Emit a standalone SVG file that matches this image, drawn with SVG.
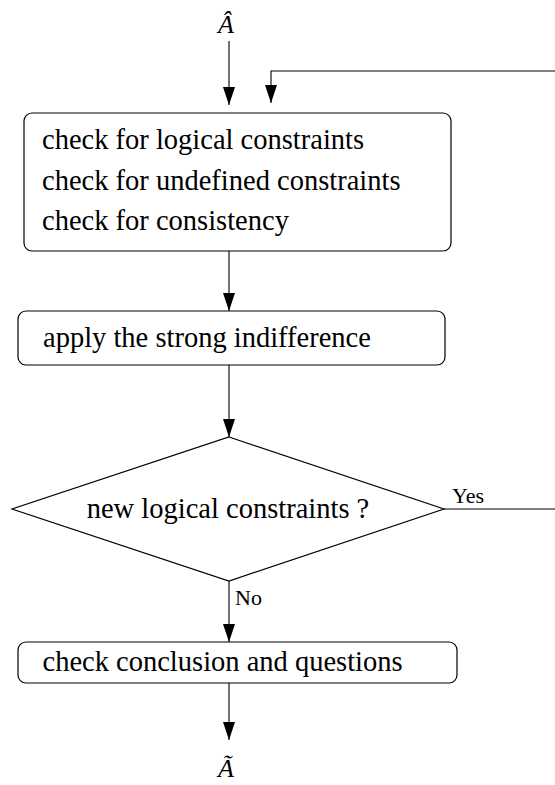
<svg xmlns="http://www.w3.org/2000/svg" width="555" height="785" viewBox="0 0 555 785">
<style>
.box{fill:#fff;stroke:#000;stroke-width:1.2}
.t{font-family:"Liberation Serif","Times New Roman",serif;font-size:28.5px;fill:#000}
.s{font-family:"Liberation Serif","Times New Roman",serif;font-size:22px;fill:#000}
.m{font-family:"Liberation Serif","Times New Roman",serif;font-size:26px;font-style:italic;fill:#000}
.c{fill:none;stroke:#000;stroke-width:1.1}
.ah{fill:#000}
</style>
<g id="input"><text class="m" x="226" y="33" text-anchor="middle">Â</text></g>
<g id="output"><text class="m" x="226" y="777" text-anchor="middle">Ã</text></g>
<g id="connectors">
<path class="c" d="M229,41 V105"/>
<path class="ah" d="M223,87 L235,87 L229,105 Z"/>
<path class="c" d="M444,509 H560 V71 H271 V103"/>
<path class="ah" d="M265,85 L277,85 L271,103 Z"/>
<path class="c" d="M229,251 V311"/>
<path class="ah" d="M223,293 L235,293 L229,311 Z"/>
<path class="c" d="M229,365 V437"/>
<path class="ah" d="M223,419 L235,419 L229,437 Z"/>
<path class="c" d="M229,581 V642"/>
<path class="ah" d="M223,624 L235,624 L229,642 Z"/>
<path class="c" d="M229,683 V740"/>
<path class="ah" d="M223,722 L235,722 L229,740 Z"/>
<text class="s" x="452" y="503">Yes</text>
<text class="s" x="235" y="605">No</text>
</g>
<g id="checks">
<rect class="box" x="24" y="113" width="427" height="138" rx="8"/>
<text class="t" x="42" y="149">check for logical constraints</text>
<text class="t" x="42" y="190">check for undefined constraints</text>
<text class="t" x="42" y="230">check for consistency</text>
</g>
<g id="indifference">
<rect class="box" x="18" y="311" width="427" height="54" rx="8"/>
<text class="t" x="43" y="347">apply the strong indifference</text>
</g>
<g id="decision">
<polygon class="box" points="229,437 444,509 229,581 12,509"/>
<text class="t" x="228" y="518" text-anchor="middle">new logical constraints ?</text>
</g>
<g id="conclusion">
<rect class="box" x="18" y="642" width="439" height="41" rx="8"/>
<text class="t" x="42.5" y="671">check conclusion and questions</text>
</g>
</svg>
